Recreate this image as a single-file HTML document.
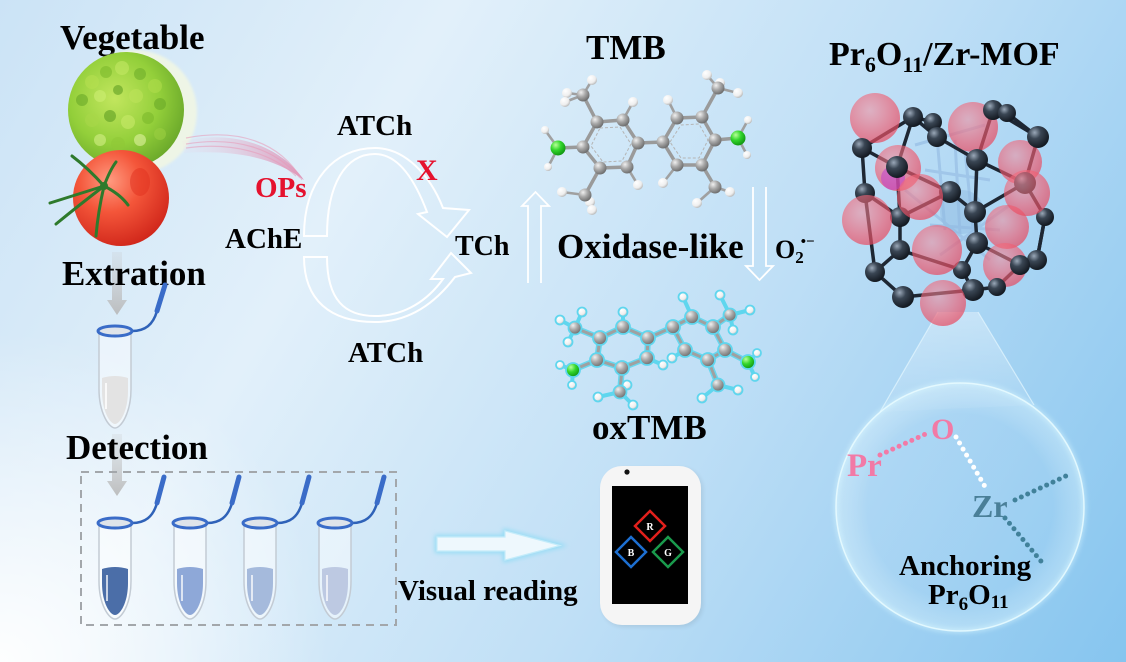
<!DOCTYPE html>
<html><head><meta charset="utf-8"><style>
html,body{margin:0;padding:0;width:1126px;height:662px;overflow:hidden;background:#d6eaf8;}
svg{display:block}
text{font-family:"Liberation Serif","Times New Roman",serif;font-weight:bold;}
</style></head><body>
<svg width="1126" height="662" viewBox="0 0 1126 662" xmlns="http://www.w3.org/2000/svg">
<defs>
  <linearGradient id="bg" x1="0" y1="0" x2="1126" y2="662" gradientUnits="userSpaceOnUse">
    <stop offset="0" stop-color="#cbe3f6"/>
    <stop offset="0.3" stop-color="#e2f0fa"/>
    <stop offset="0.62" stop-color="#bfdff6"/>
    <stop offset="1" stop-color="#86c5ef"/>
  </linearGradient>
  <radialGradient id="bl" cx="0" cy="662" r="330" gradientUnits="userSpaceOnUse">
    <stop offset="0" stop-color="#ffffff" stop-opacity="0.95"/>
    <stop offset="1" stop-color="#ffffff" stop-opacity="0"/>
  </radialGradient>
  <radialGradient id="gC" cx="0.35" cy="0.3" r="0.7">
    <stop offset="0" stop-color="#f0f0f0"/><stop offset="0.5" stop-color="#a8a8a8"/><stop offset="1" stop-color="#707070"/>
  </radialGradient>
  <radialGradient id="gH" cx="0.35" cy="0.3" r="0.7">
    <stop offset="0" stop-color="#ffffff"/><stop offset="0.7" stop-color="#eeeeee"/><stop offset="1" stop-color="#bdbdbd"/>
  </radialGradient>
  <radialGradient id="gN" cx="0.35" cy="0.3" r="0.7">
    <stop offset="0" stop-color="#b8ff9a"/><stop offset="0.5" stop-color="#33d62c"/><stop offset="1" stop-color="#139a13"/>
  </radialGradient>
  <radialGradient id="gD" cx="0.35" cy="0.3" r="0.7">
    <stop offset="0" stop-color="#9aa8b8"/><stop offset="0.4" stop-color="#3a4654"/><stop offset="1" stop-color="#141a22"/>
  </radialGradient>
  <radialGradient id="gP" cx="0.4" cy="0.35" r="0.65">
    <stop offset="0" stop-color="#f58a98" stop-opacity="0.55"/><stop offset="0.7" stop-color="#f05a6e" stop-opacity="0.65"/><stop offset="1" stop-color="#e84a60" stop-opacity="0.7"/>
  </radialGradient>
  <radialGradient id="gTom" cx="0.38" cy="0.32" r="0.72">
    <stop offset="0" stop-color="#ff9a80"/><stop offset="0.45" stop-color="#f4563a"/><stop offset="1" stop-color="#d0261a"/>
  </radialGradient>
  <radialGradient id="gLet" cx="0.4" cy="0.4" r="0.65">
    <stop offset="0" stop-color="#c2e65e"/><stop offset="0.6" stop-color="#93cf3a"/><stop offset="1" stop-color="#6aa82a"/>
  </radialGradient>
  <linearGradient id="gSw" x1="0" y1="0" x2="1" y2="0">
    <stop offset="0" stop-color="#f4c0d2" stop-opacity="0.05"/><stop offset="1" stop-color="#d85a8e" stop-opacity="0.6"/>
  </linearGradient>
  <linearGradient id="gArr" x1="0" y1="0" x2="0" y2="1">
    <stop offset="0" stop-color="#c4c4c4" stop-opacity="0.2"/><stop offset="1" stop-color="#b8b8b8" stop-opacity="0.9"/>
  </linearGradient>
  <linearGradient id="gCone" x1="0" y1="0" x2="0" y2="1">
    <stop offset="0" stop-color="#ffffff" stop-opacity="0.35"/><stop offset="1" stop-color="#ffffff" stop-opacity="0.05"/>
  </linearGradient>
  <radialGradient id="gMag" cx="0.5" cy="0.5" r="0.5">
    <stop offset="0.75" stop-color="#ffffff" stop-opacity="0.05"/><stop offset="1" stop-color="#e8fbff" stop-opacity="0.35"/>
  </radialGradient>
  <filter id="glow" x="-30%" y="-30%" width="160%" height="160%">
    <feGaussianBlur stdDeviation="2.5"/>
  </filter>
  <filter id="soft" x="-30%" y="-30%" width="160%" height="160%">
    <feGaussianBlur stdDeviation="1.2"/>
  </filter>
  <clipPath id="letClip"><circle cx="126" cy="110" r="58"/></clipPath>
</defs>

<!-- background -->
<rect width="1126" height="662" fill="url(#bg)"/>
<rect width="1126" height="662" fill="url(#bl)"/>

<!-- ========== LEFT: vegetables ========== -->
<text x="60" y="49" font-size="35" fill="#000">Vegetable</text>

<!-- lettuce -->
<circle cx="135" cy="112" r="62" fill="#eef5e6" filter="url(#soft)"/>
<circle cx="126" cy="110" r="58" fill="url(#gLet)"/>
<g clip-path="url(#letClip)" opacity="0.6">
  <circle cx="92" cy="82" r="7" fill="#b6e050"/><circle cx="106" cy="72" r="6" fill="#7cba2c"/>
  <circle cx="122" cy="68" r="7" fill="#c4e864"/><circle cx="140" cy="74" r="6" fill="#6fae2a"/>
  <circle cx="155" cy="86" r="7" fill="#b0dc4c"/><circle cx="82" cy="100" r="6" fill="#6aa828"/>
  <circle cx="100" cy="96" r="6" fill="#cdee74"/><circle cx="118" cy="90" r="5" fill="#5f9e24"/>
  <circle cx="136" cy="96" r="7" fill="#bde35a"/><circle cx="160" cy="104" r="6" fill="#6aa828"/>
  <circle cx="92" cy="120" r="7" fill="#a8d84a"/><circle cx="110" cy="116" r="6" fill="#5f9e24"/>
  <circle cx="128" cy="122" r="7" fill="#c8ea6a"/><circle cx="148" cy="118" r="6" fill="#7cba2c"/>
  <circle cx="100" cy="140" r="6" fill="#d4ee88"/><circle cx="118" cy="144" r="7" fill="#8fc838"/>
  <circle cx="140" cy="140" r="6" fill="#e0f2a0"/><circle cx="160" cy="134" r="6" fill="#9ccf42"/>
  <circle cx="125" cy="158" r="7" fill="#e4f4b0"/>
</g>

<!-- tomato -->
<circle cx="121" cy="198" r="48" fill="url(#gTom)"/>
<ellipse cx="140" cy="182" rx="10" ry="14" fill="#e0301e" opacity="0.5"/>
<g stroke="#2e7a2c" stroke-width="3" stroke-linecap="round" fill="none">
  <path d="M104,186 L50,203"/>
  <path d="M104,186 Q88,168 72,156"/>
  <path d="M104,186 Q78,206 56,224"/>
  <path d="M104,186 Q98,212 96,236"/>
  <path d="M104,186 Q110,170 116,162"/>
  <path d="M104,186 Q120,194 128,205"/>
</g>
<circle cx="104" cy="186" r="4" fill="#2e7a2c"/>

<!-- pink swoosh -->
<path d="M182,141 C230,130 278,143 304,180 C272,156 232,150 184,153 Z" fill="url(#gSw)"/>
<g fill="none" stroke="#e89ab8" stroke-width="1.2" opacity="0.55">
  <path d="M186,144 C235,136 275,148 300,178"/>
  <path d="M186,148 C232,142 270,152 296,176"/>
  <path d="M186,138 C238,128 280,142 302,180"/>
</g>

<text x="255" y="197" font-size="29" fill="#e5122e">OPs</text>

<!-- gray down arrows -->
<path d="M112,252 L122,252 L122,300 L127,300 L117,315 L107,300 L112,300 Z" fill="url(#gArr)"/>
<path d="M112,434 L122,434 L122,481 L127,481 L117,496 L107,481 L112,481 Z" fill="url(#gArr)"/>

<text x="62" y="285" font-size="35" fill="#000">Extration</text>

<!-- extraction tube -->
<g transform="translate(115,331)">
  <path d="M-16,0 L-16,58 C-16,82 -6,97 0,97 C6,97 16,82 16,58 L16,0 Z" fill="#ffffff" fill-opacity="0.45" stroke="#c3cbd4" stroke-width="1.5"/>
  <path d="M-13,47 L-13,60 C-13,80 -5,93 0,93 C5,93 13,80 13,60 L13,47 Q0,43 -13,47 Z" fill="#e3e3e3"/>
  <path d="M-9,52 L-9,78" stroke="#ffffff" stroke-width="2" opacity="0.8"/>
  <path d="M17,0 C30,0 38,-6 42,-20" stroke="#2f62b8" stroke-width="2.5" fill="none"/>
  <path d="M42,-20 L50,-46" stroke="#3a6cc8" stroke-width="5" stroke-linecap="round"/>
  <ellipse cx="0" cy="0" rx="17" ry="5" fill="#dfe4ea" stroke="#3a6cc8" stroke-width="3"/>
</g>

<text x="66" y="459" font-size="35" fill="#000">Detection</text>

<!-- dashed box -->
<rect x="81" y="472" width="315" height="153" fill="none" stroke="#a3a7ab" stroke-width="2" stroke-dasharray="8,6"/>

<!-- detection tubes -->
<g transform="translate(115,523)">
  <path d="M-16,0 L-16,58 C-16,82 -6,96 0,96 C6,96 16,82 16,58 L16,0 Z" fill="#ffffff" fill-opacity="0.45" stroke="#c3cbd4" stroke-width="1.5"/>
  <path d="M-13,46 L-13,60 C-13,80 -5,92 0,92 C5,92 13,80 13,60 L13,46 Q0,42 -13,46 Z" fill="#4b6ea8"/>
  <path d="M-8,52 L-8,78" stroke="#ffffff" stroke-width="2" opacity="0.7"/>
  <path d="M17,0 C30,0 38,-6 42,-20" stroke="#2f62b8" stroke-width="2.5" fill="none"/>
  <path d="M42,-20 L49,-46" stroke="#3a6cc8" stroke-width="5" stroke-linecap="round"/>
  <ellipse cx="0" cy="0" rx="17" ry="5" fill="#dfe4ea" stroke="#3a6cc8" stroke-width="3"/>
</g>
<g transform="translate(190,523)">
  <path d="M-16,0 L-16,58 C-16,82 -6,96 0,96 C6,96 16,82 16,58 L16,0 Z" fill="#ffffff" fill-opacity="0.45" stroke="#c3cbd4" stroke-width="1.5"/>
  <path d="M-13,46 L-13,60 C-13,80 -5,92 0,92 C5,92 13,80 13,60 L13,46 Q0,42 -13,46 Z" fill="#8ea8d8"/>
  <path d="M-8,52 L-8,78" stroke="#ffffff" stroke-width="2" opacity="0.7"/>
  <path d="M17,0 C30,0 38,-6 42,-20" stroke="#2f62b8" stroke-width="2.5" fill="none"/>
  <path d="M42,-20 L49,-46" stroke="#3a6cc8" stroke-width="5" stroke-linecap="round"/>
  <ellipse cx="0" cy="0" rx="17" ry="5" fill="#dfe4ea" stroke="#3a6cc8" stroke-width="3"/>
</g>
<g transform="translate(260,523)">
  <path d="M-16,0 L-16,58 C-16,82 -6,96 0,96 C6,96 16,82 16,58 L16,0 Z" fill="#ffffff" fill-opacity="0.45" stroke="#c3cbd4" stroke-width="1.5"/>
  <path d="M-13,46 L-13,60 C-13,80 -5,92 0,92 C5,92 13,80 13,60 L13,46 Q0,42 -13,46 Z" fill="#a5badc"/>
  <path d="M-8,52 L-8,78" stroke="#ffffff" stroke-width="2" opacity="0.7"/>
  <path d="M17,0 C30,0 38,-6 42,-20" stroke="#2f62b8" stroke-width="2.5" fill="none"/>
  <path d="M42,-20 L49,-46" stroke="#3a6cc8" stroke-width="5" stroke-linecap="round"/>
  <ellipse cx="0" cy="0" rx="17" ry="5" fill="#dfe4ea" stroke="#3a6cc8" stroke-width="3"/>
</g>
<g transform="translate(335,523)">
  <path d="M-16,0 L-16,58 C-16,82 -6,96 0,96 C6,96 16,82 16,58 L16,0 Z" fill="#ffffff" fill-opacity="0.45" stroke="#c3cbd4" stroke-width="1.5"/>
  <path d="M-13,46 L-13,60 C-13,80 -5,92 0,92 C5,92 13,80 13,60 L13,46 Q0,42 -13,46 Z" fill="#bdc9e2"/>
  <path d="M-8,52 L-8,78" stroke="#ffffff" stroke-width="2" opacity="0.7"/>
  <path d="M17,0 C30,0 38,-6 42,-20" stroke="#2f62b8" stroke-width="2.5" fill="none"/>
  <path d="M42,-20 L49,-46" stroke="#3a6cc8" stroke-width="5" stroke-linecap="round"/>
  <ellipse cx="0" cy="0" rx="17" ry="5" fill="#dfe4ea" stroke="#3a6cc8" stroke-width="3"/>
</g>

<!-- horizontal glowing arrow -->
<path d="M437,537 L505,537 L505,531 L560,545.5 L505,560 L505,551 L437,551 Z" fill="none" stroke="#8fdcf4" stroke-width="4" filter="url(#glow)"/>
<path d="M437,537 L505,537 L505,531 L560,545.5 L505,560 L505,551 L437,551 Z" fill="#eef8fd" stroke="#c5ecfa" stroke-width="1.2"/>

<text x="398" y="600" font-size="29" fill="#000">Visual reading</text>

<!-- phone -->
<rect x="602" y="468" width="101" height="159" rx="22" fill="#000" opacity="0.08" filter="url(#glow)"/>
<rect x="600" y="466" width="101" height="159" rx="22" fill="#f5f5f5"/>
<rect x="612" y="486" width="76" height="118" fill="#000"/>
<circle cx="627" cy="472" r="2.6" fill="#111"/>
<polygon points="650,511 665,526 650,541 635,526" fill="none" stroke="#e2201c" stroke-width="2.5"/>
<polygon points="631,537 646,552 631,567 616,552" fill="none" stroke="#1d6fd1" stroke-width="2.5"/>
<polygon points="668,537 683,552 668,567 653,552" fill="none" stroke="#1a9a4c" stroke-width="2.5"/>
<text x="650" y="530" font-size="10" fill="#fff" text-anchor="middle">R</text>
<text x="631" y="556" font-size="10" fill="#fff" text-anchor="middle">B</text>
<text x="668" y="556" font-size="10" fill="#fff" text-anchor="middle">G</text>

<!-- ========== MIDDLE: enzyme cycle ========== -->
<text x="337" y="135" font-size="29" fill="#000">ATCh</text>
<text x="225" y="248" font-size="29" fill="#000">AChE</text>
<text x="455" y="255" font-size="28" fill="#000">TCh</text>
<text x="348" y="362" font-size="29" fill="#000">ATCh</text>

<path d="M304,236 C304,180 335,148 375,148 C405,148 430,175 443,208 L469,210 L447,237 L418,214 L427,212 C415,180 398,154 375,154 C345,154 327,185 327,236 Z" fill="none" stroke="#ffffff" stroke-width="2"/>
<path d="M304,257 C304,300 330,322 375,322 C410,322 436,302 455,277 L471,273 L451,253 L431,279 L443,279 C428,300 405,316 375,316 C345,316 327,300 327,257 Z" fill="none" stroke="#ffffff" stroke-width="2"/>

<text x="416" y="180" font-size="30" fill="#e5122e">X</text>

<!-- vertical hollow arrows -->
<path d="M528,283 L528,206 L522,206 L535.5,192 L549,206 L541,206 L541,283" fill="none" stroke="#ffffff" stroke-width="1.8"/>
<path d="M753,187 L753,266 L746,266 L759.5,280 L773,266 L766,266 L766,187" fill="none" stroke="#ffffff" stroke-width="1.8"/>

<text x="586" y="59" font-size="35" fill="#000">TMB</text>
<text x="557" y="258" font-size="35" fill="#000">Oxidase-like</text>
<text x="775" y="258" font-size="26" fill="#000">O<tspan font-size="17" dy="5">2</tspan><tspan font-size="15" dx="-3" dy="-17">•−</tspan></text>

<!-- TMB molecule -->
<g stroke="#a0a0a0" stroke-width="2.6">
  <line x1="583" y1="95" x2="592" y2="80"/><line x1="583" y1="95" x2="567" y2="93"/><line x1="583" y1="95" x2="565" y2="102"/>
  <line x1="585" y1="195" x2="562" y2="192"/><line x1="585" y1="195" x2="590" y2="202"/><line x1="585" y1="195" x2="592" y2="210"/>
  <line x1="718" y1="88" x2="707" y2="75"/><line x1="718" y1="88" x2="720" y2="83"/><line x1="718" y1="88" x2="738" y2="93"/>
  <line x1="715" y1="187" x2="730" y2="192"/><line x1="715" y1="187" x2="697" y2="203"/>
  <line x1="558" y1="148" x2="545" y2="130"/><line x1="558" y1="148" x2="548" y2="167"/>
  <line x1="738" y1="138" x2="748" y2="120"/><line x1="738" y1="138" x2="747" y2="155"/>
  <line x1="623" y1="120" x2="633" y2="102"/><line x1="627" y1="167" x2="638" y2="185"/>
  <line x1="677" y1="118" x2="668" y2="100"/><line x1="677" y1="165" x2="663" y2="183"/>
</g>
<g stroke="#9a9a9a" stroke-width="3.5" fill="none">
  <polygon points="597,122 623,120 638,143 627,167 600,168 583,147"/>
  <polygon points="663,142 677,118 702,117 715,140 702,165 677,165"/>
  <line x1="638" y1="143" x2="663" y2="142"/>
  <line x1="558" y1="148" x2="583" y2="147"/><line x1="738" y1="138" x2="715" y2="140"/>
  <line x1="583" y1="95" x2="597" y2="122"/><line x1="585" y1="195" x2="600" y2="168"/>
  <line x1="718" y1="88" x2="702" y2="117"/><line x1="715" y1="187" x2="702" y2="165"/>
</g>
<g stroke="#b5b5b5" stroke-width="1" stroke-dasharray="3,2" fill="none">
  <polygon points="600,128 620,127 631,144 622,161 603,162 591,146"/>
  <polygon points="670,142 681,125 699,124 708,140 699,158 681,158"/>
</g>
<g fill="url(#gH)">
  <circle cx="592" cy="80" r="5"/><circle cx="567" cy="93" r="5"/><circle cx="565" cy="102" r="5"/>
  <circle cx="562" cy="192" r="5"/><circle cx="590" cy="202" r="5"/><circle cx="592" cy="210" r="5"/>
  <circle cx="707" cy="75" r="5"/><circle cx="720" cy="83" r="5"/><circle cx="738" cy="93" r="5"/>
  <circle cx="730" cy="192" r="5"/><circle cx="697" cy="203" r="5"/>
  <circle cx="545" cy="130" r="4"/><circle cx="548" cy="167" r="4"/>
  <circle cx="748" cy="120" r="4"/><circle cx="747" cy="155" r="4"/>
  <circle cx="633" cy="102" r="5"/><circle cx="638" cy="185" r="5"/>
  <circle cx="668" cy="100" r="5"/><circle cx="663" cy="183" r="5"/>
</g>
<g fill="url(#gC)">
  <circle cx="597" cy="122" r="6.5"/><circle cx="623" cy="120" r="6.5"/><circle cx="638" cy="143" r="6.5"/>
  <circle cx="627" cy="167" r="6.5"/><circle cx="600" cy="168" r="6.5"/><circle cx="583" cy="147" r="6.5"/>
  <circle cx="663" cy="142" r="6.5"/><circle cx="677" cy="118" r="6.5"/><circle cx="702" cy="117" r="6.5"/>
  <circle cx="715" cy="140" r="6.5"/><circle cx="702" cy="165" r="6.5"/><circle cx="677" cy="165" r="6.5"/>
  <circle cx="583" cy="95" r="6.5"/><circle cx="585" cy="195" r="6.5"/><circle cx="718" cy="88" r="6.5"/><circle cx="715" cy="187" r="6.5"/>
</g>
<g fill="url(#gN)">
  <circle cx="558" cy="148" r="7.5"/><circle cx="738" cy="138" r="7.5"/>
</g>

<!-- oxTMB molecule -->
<g stroke="#5fd6ee" stroke-width="6" fill="none" opacity="0.9">
  <polygon points="600,338 623,327 648,338 647,358 622,368 597,360"/>
  <polygon points="673,327 692,317 713,327 725,350 708,360 685,350"/>
  <line x1="648" y1="338" x2="673" y2="327"/>
  <line x1="575" y1="328" x2="600" y2="338"/><line x1="620" y1="392" x2="622" y2="368"/>
  <line x1="730" y1="315" x2="713" y2="327"/><line x1="718" y1="385" x2="708" y2="360"/>
  <line x1="573" y1="370" x2="597" y2="360"/><line x1="748" y1="362" x2="725" y2="350"/>
</g>
<g stroke="#5fd6ee" stroke-width="4" fill="none">
  <line x1="575" y1="328" x2="560" y2="320"/><line x1="575" y1="328" x2="582" y2="312"/><line x1="575" y1="328" x2="568" y2="342"/>
  <line x1="573" y1="370" x2="560" y2="365"/><line x1="573" y1="370" x2="572" y2="385"/>
  <line x1="620" y1="392" x2="598" y2="397"/><line x1="620" y1="392" x2="627" y2="385"/><line x1="620" y1="392" x2="633" y2="405"/>
  <line x1="623" y1="327" x2="623" y2="312"/><line x1="647" y1="358" x2="663" y2="365"/><line x1="685" y1="350" x2="672" y2="358"/>
  <line x1="692" y1="317" x2="683" y2="297"/>
  <line x1="730" y1="315" x2="720" y2="295"/><line x1="730" y1="315" x2="750" y2="310"/><line x1="730" y1="315" x2="733" y2="330"/>
  <line x1="718" y1="385" x2="702" y2="398"/><line x1="718" y1="385" x2="738" y2="390"/>
  <line x1="748" y1="362" x2="757" y2="353"/><line x1="748" y1="362" x2="755" y2="377"/>
</g>
<g stroke="#a0a0a0" stroke-width="3" fill="none">
  <polygon points="600,338 623,327 648,338 647,358 622,368 597,360"/>
  <polygon points="673,327 692,317 713,327 725,350 708,360 685,350"/>
  <line x1="648" y1="338" x2="673" y2="327"/>
  <line x1="575" y1="328" x2="600" y2="338"/><line x1="620" y1="392" x2="622" y2="368"/>
  <line x1="730" y1="315" x2="713" y2="327"/><line x1="718" y1="385" x2="708" y2="360"/>
  <line x1="573" y1="370" x2="597" y2="360"/><line x1="748" y1="362" x2="725" y2="350"/>
</g>
<g fill="url(#gH)" stroke="#5fd6ee" stroke-width="1.8">
  <circle cx="560" cy="320" r="4.5"/><circle cx="582" cy="312" r="4.5"/><circle cx="568" cy="342" r="4.5"/>
  <circle cx="560" cy="365" r="4"/><circle cx="572" cy="385" r="4"/>
  <circle cx="598" cy="397" r="4.5"/><circle cx="627" cy="385" r="4.5"/><circle cx="633" cy="405" r="4.5"/>
  <circle cx="623" cy="312" r="4.5"/><circle cx="663" cy="365" r="4.5"/><circle cx="672" cy="358" r="4.5"/>
  <circle cx="683" cy="297" r="4.5"/>
  <circle cx="720" cy="295" r="4.5"/><circle cx="750" cy="310" r="4.5"/><circle cx="733" cy="330" r="4.5"/>
  <circle cx="702" cy="398" r="4.5"/><circle cx="738" cy="390" r="4.5"/>
  <circle cx="757" cy="353" r="4"/><circle cx="755" cy="377" r="4"/>
</g>
<g fill="url(#gC)" stroke="#5fd6ee" stroke-width="1.8">
  <circle cx="600" cy="338" r="7"/><circle cx="623" cy="327" r="7"/><circle cx="648" cy="338" r="7"/>
  <circle cx="647" cy="358" r="7"/><circle cx="622" cy="368" r="7"/><circle cx="597" cy="360" r="7"/>
  <circle cx="673" cy="327" r="7"/><circle cx="692" cy="317" r="7"/><circle cx="713" cy="327" r="7"/>
  <circle cx="725" cy="350" r="7"/><circle cx="708" cy="360" r="7"/><circle cx="685" cy="350" r="7"/>
  <circle cx="575" cy="328" r="6.5"/><circle cx="620" cy="392" r="6.5"/><circle cx="730" cy="315" r="6.5"/><circle cx="718" cy="385" r="6.5"/>
</g>
<g fill="url(#gN)" stroke="#5fd6ee" stroke-width="1.8">
  <circle cx="573" cy="370" r="7"/><circle cx="748" cy="362" r="7"/>
</g>

<text x="592" y="439" font-size="35" fill="#000">oxTMB</text>

<!-- ========== RIGHT: MOF ========== -->
<text x="829" y="65" font-size="34" fill="#000">Pr<tspan font-size="22" dy="7">6</tspan><tspan dy="-7">O</tspan><tspan font-size="22" dy="7">11</tspan><tspan dy="-7">/Zr-MOF</tspan></text>

<!-- cone -->
<polygon points="938,312 978,312 1034,405 880,412" fill="url(#gCone)"/>
<line x1="938" y1="312" x2="880" y2="412" stroke="#e6f8ff" stroke-width="1.2" opacity="0.7"/>
<line x1="978" y1="312" x2="1034" y2="405" stroke="#e6f8ff" stroke-width="1.2" opacity="0.7"/>

<!-- glass bonds -->
<g stroke="#9ec4e8" stroke-width="3" opacity="0.9">
  <line x1="937" y1="137" x2="945" y2="230"/><line x1="955" y1="140" x2="960" y2="235"/>
  <line x1="925" y1="170" x2="990" y2="180"/><line x1="930" y1="225" x2="1000" y2="230"/>
  <line x1="915" y1="145" x2="985" y2="125"/><line x1="940" y1="255" x2="1010" y2="205"/>
  <line x1="965" y1="150" x2="975" y2="250"/><line x1="905" y1="190" x2="990" y2="260"/>
</g>
<circle cx="962" cy="212" r="22" fill="#8fb8e0" opacity="0.45"/>

<!-- dark bonds -->
<g stroke="#1e2733" stroke-width="3.5" stroke-linecap="round">
  <line x1="862" y1="148" x2="913" y2="117"/><line x1="862" y1="148" x2="897" y2="167"/>
  <line x1="913" y1="117" x2="897" y2="167"/><line x1="913" y1="117" x2="937" y2="137"/>
  <line x1="913" y1="117" x2="933" y2="122"/>
  <line x1="937" y1="137" x2="977" y2="160"/><line x1="977" y1="160" x2="993" y2="110"/>
  <line x1="993" y1="110" x2="1038" y2="137"/><line x1="1007" y1="113" x2="1038" y2="137"/>
  <line x1="1038" y1="137" x2="1025" y2="183"/><line x1="977" y1="160" x2="1025" y2="183"/>
  <line x1="897" y1="167" x2="950" y2="192"/><line x1="950" y1="192" x2="975" y2="212"/>
  <line x1="1025" y1="183" x2="975" y2="212"/><line x1="977" y1="160" x2="975" y2="212"/>
  <line x1="862" y1="148" x2="865" y2="193"/><line x1="865" y1="193" x2="900" y2="217"/>
  <line x1="897" y1="167" x2="900" y2="217"/><line x1="900" y1="217" x2="950" y2="192"/>
  <line x1="975" y1="212" x2="977" y2="243"/><line x1="1025" y1="183" x2="1045" y2="217"/>
  <line x1="1045" y1="217" x2="1037" y2="260"/><line x1="977" y1="243" x2="1020" y2="265"/>
  <line x1="1020" y1="265" x2="1037" y2="260"/>
  <line x1="865" y1="193" x2="875" y2="272"/><line x1="875" y1="272" x2="900" y2="250"/>
  <line x1="900" y1="250" x2="900" y2="217"/><line x1="875" y1="272" x2="903" y2="297"/>
  <line x1="903" y1="297" x2="973" y2="290"/><line x1="900" y1="250" x2="962" y2="270"/>
  <line x1="962" y1="270" x2="973" y2="290"/><line x1="973" y1="290" x2="997" y2="287"/>
  <line x1="997" y1="287" x2="1020" y2="265"/><line x1="962" y1="270" x2="977" y2="243"/>
  <line x1="1037" y1="260" x2="1045" y2="217"/>
</g>

<!-- pink spheres (behind some atoms) -->
<g fill="url(#gP)">
  <circle cx="875" cy="118" r="25"/>
  <circle cx="898" cy="168" r="23"/>
  <circle cx="973" cy="127" r="25"/>
  <circle cx="1020" cy="162" r="22"/>
  <circle cx="1007" cy="227" r="22"/>
  <circle cx="1005" cy="265" r="22"/>
</g>
<circle cx="893" cy="178" r="12" fill="#c040d0" opacity="0.55"/>

<!-- dark atoms -->
<g fill="url(#gD)">
  <circle cx="913" cy="117" r="10"/><circle cx="933" cy="122" r="9"/><circle cx="862" cy="148" r="10"/>
  <circle cx="897" cy="167" r="11"/><circle cx="937" cy="137" r="10"/><circle cx="977" cy="160" r="11"/>
  <circle cx="993" cy="110" r="10"/><circle cx="1007" cy="113" r="9"/><circle cx="1038" cy="137" r="11"/>
  <circle cx="1025" cy="183" r="11"/><circle cx="950" cy="192" r="11"/><circle cx="975" cy="212" r="11"/>
  <circle cx="900" cy="217" r="10"/><circle cx="865" cy="193" r="10"/><circle cx="1045" cy="217" r="9"/>
  <circle cx="977" cy="243" r="11"/><circle cx="1037" cy="260" r="10"/><circle cx="875" cy="272" r="10"/>
  <circle cx="900" cy="250" r="10"/><circle cx="903" cy="297" r="11"/><circle cx="962" cy="270" r="9"/>
  <circle cx="973" cy="290" r="11"/><circle cx="1020" cy="265" r="10"/><circle cx="997" cy="287" r="9"/>
</g>

<!-- pink spheres (front) -->
<g fill="url(#gP)">
  <circle cx="920" cy="197" r="23"/>
  <circle cx="867" cy="220" r="25"/>
  <circle cx="1027" cy="193" r="23"/>
  <circle cx="937" cy="250" r="25"/>
  <circle cx="943" cy="303" r="23"/>
</g>

<!-- magnifier circle -->
<circle cx="960" cy="507" r="124" fill="url(#gMag)"/>
<circle cx="960" cy="507" r="124" fill="none" stroke="#d8f6ff" stroke-width="4" opacity="0.6" filter="url(#glow)"/>
<circle cx="960" cy="507" r="124" fill="none" stroke="#e9fbff" stroke-width="1.5" opacity="0.85"/>

<!-- dotted bonds -->
<line x1="880" y1="455" x2="930" y2="432" stroke="#f27aa6" stroke-width="5" stroke-linecap="round" stroke-dasharray="0,7"/>
<line x1="956" y1="437" x2="987" y2="490" stroke="#ffffff" stroke-width="5" stroke-linecap="round" stroke-dasharray="0,7"/>
<line x1="1015" y1="500" x2="1068" y2="475" stroke="#41819a" stroke-width="5" stroke-linecap="round" stroke-dasharray="0,7"/>
<line x1="1005" y1="518" x2="1045" y2="566" stroke="#41819a" stroke-width="5" stroke-linecap="round" stroke-dasharray="0,7"/>

<text x="847" y="476" font-size="33" fill="#f27aa6">Pr</text>
<text x="931" y="439" font-size="30" fill="#f27aa6">O</text>
<text x="972" y="517" font-size="32" fill="#4a7f98">Zr</text>

<text x="899" y="575" font-size="29" fill="#000">Anchoring</text>
<text x="928" y="604" font-size="29" fill="#000">Pr<tspan font-size="19" dy="6">6</tspan><tspan dy="-6">O</tspan><tspan font-size="19" dy="4">11</tspan></text>

</svg>
</body></html>
